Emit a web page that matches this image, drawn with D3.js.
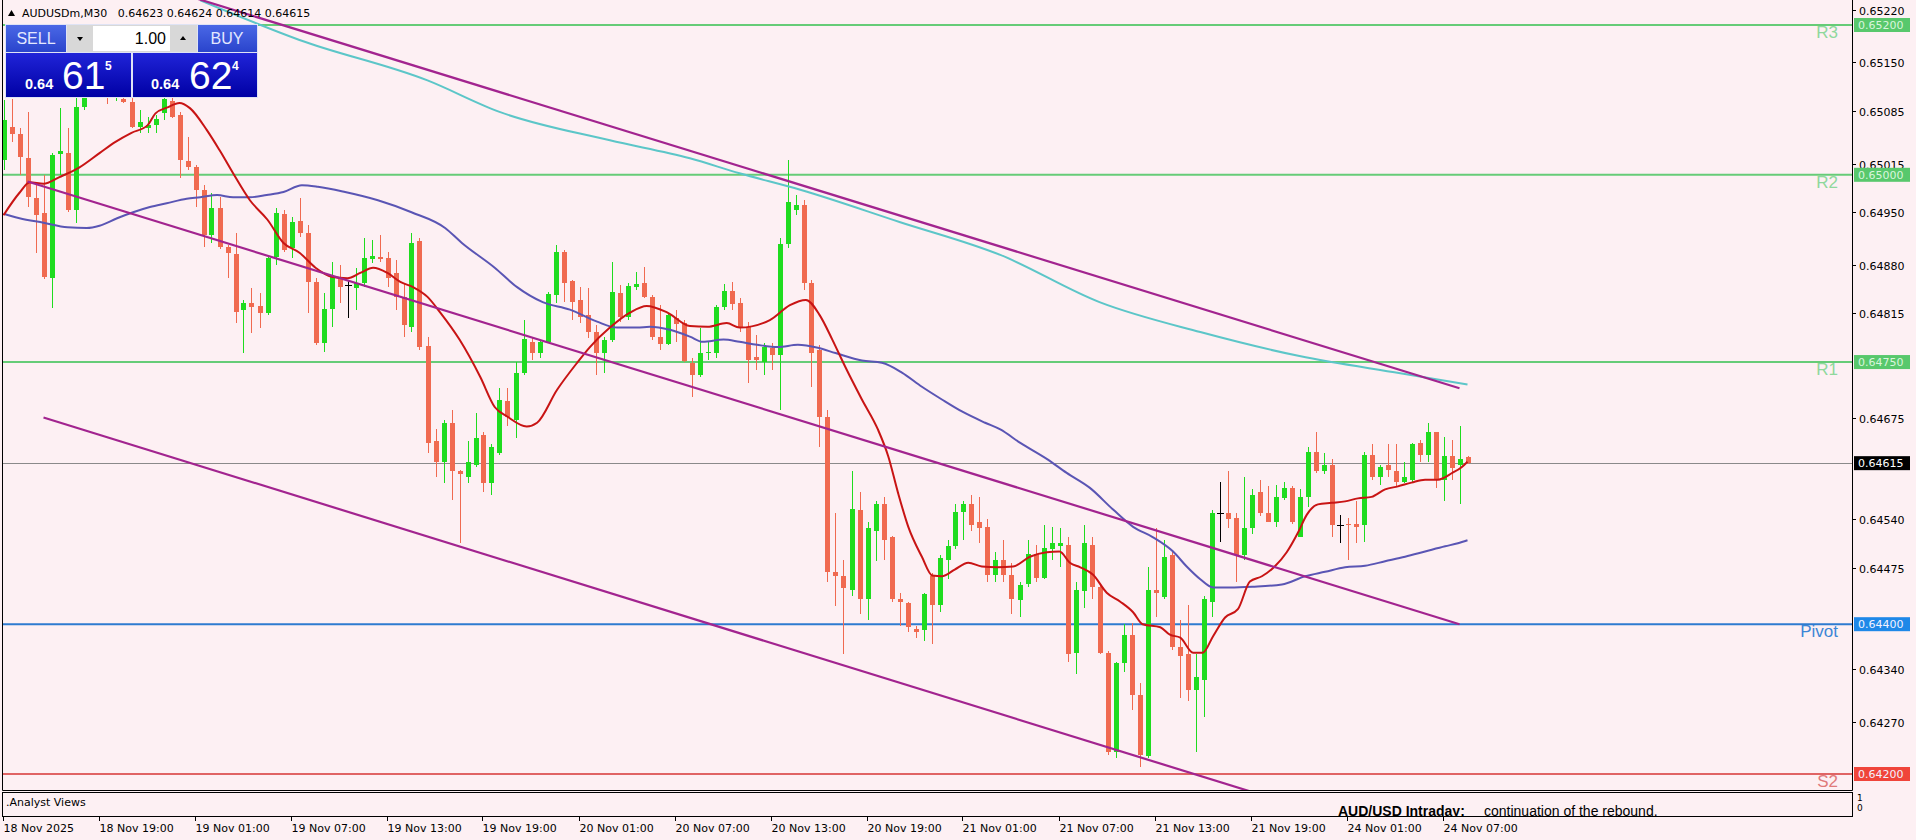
<!DOCTYPE html>
<html><head><meta charset="utf-8">
<script src="https://cdn.jsdelivr.net/npm/d3@7"></script>
<style>
html,body{margin:0;padding:0;background:#fdf0f3;overflow:hidden;}
svg{display:block;}
</style></head><body>
<svg id="chart" width="1916" height="840"></svg>
<script>
// ---------------- DATA ----------------
const symbolTitle = "AUDUSDm,M30";
const titleQuote = [0.64623, 0.64624, 0.64614, 0.64615];
const lotSize = "1.00";
const sellQuote = ["0.64", "61", "5"];
const buyQuote = ["0.64", "62", "4"];

// one row per 30-minute bar: [open, high, low, close]
const ohlc = [
[0.65020,0.65100,0.65006,0.65073],[0.65064,0.65101,0.65044,0.65054],[0.65054,0.65062,0.65000,0.65024],[0.65022,0.65084,0.64957,0.64970],
[0.64969,0.64989,0.64896,0.64946],[0.64949,0.65000,0.64861,0.64864],[0.64862,0.65029,0.64822,0.65026],[0.65028,0.65089,0.65000,0.65032],
[0.65029,0.65062,0.64950,0.64953],[0.64953,0.65102,0.64936,0.65090],[0.65090,0.65126,0.65086,0.65116],[0.65116,0.65150,0.65105,0.65140],
[0.65140,0.65160,0.65110,0.65120],[0.65120,0.65130,0.65095,0.65105],[0.65105,0.65125,0.65098,0.65115],[0.65101,0.65112,0.65096,0.65097],
[0.65097,0.65104,0.65062,0.65064],[0.65064,0.65086,0.65056,0.65070],[0.65062,0.65077,0.65056,0.65066],[0.65066,0.65080,0.65056,0.65074],
[0.65082,0.65110,0.65073,0.65101],[0.65098,0.65108,0.65076,0.65077],[0.65080,0.65084,0.64996,0.65020],[0.65018,0.65050,0.65006,0.65010],
[0.65010,0.65013,0.64957,0.64980],[0.64980,0.64986,0.64904,0.64920],[0.64920,0.64976,0.64909,0.64956],[0.64956,0.64970,0.64901,0.64904],
[0.64904,0.64906,0.64862,0.64896],[0.64894,0.64922,0.64802,0.64817],[0.64820,0.64833,0.64762,0.64829],[0.64829,0.64849,0.64789,0.64824],
[0.64825,0.64842,0.64796,0.64816],[0.64816,0.64892,0.64813,0.64889],[0.64890,0.64956,0.64880,0.64949],[0.64948,0.64953,0.64897,0.64900],
[0.64902,0.64944,0.64889,0.64937],[0.64938,0.64969,0.64917,0.64922],[0.64922,0.64933,0.64816,0.64857],[0.64857,0.64862,0.64773,0.64776],
[0.64776,0.64842,0.64764,0.64821],[0.64821,0.64884,0.64797,0.64864],[0.64862,0.64880,0.64829,0.64850],[0.64853,0.64860,0.64809,0.64853],
[0.64849,0.64876,0.64820,0.64856],[0.64856,0.64916,0.64850,0.64889],[0.64888,0.64913,0.64882,0.64892],[0.64890,0.64920,0.64884,0.64888],
[0.64889,0.64897,0.64850,0.64862],[0.64869,0.64886,0.64820,0.64837],[0.64837,0.64856,0.64784,0.64800],[0.64797,0.64922,0.64790,0.64909],
[0.64912,0.64916,0.64766,0.64770],[0.64772,0.64784,0.64629,0.64642],[0.64645,0.64660,0.64596,0.64616],[0.64616,0.64672,0.64589,0.64669],
[0.64668,0.64686,0.64566,0.64604],[0.64604,0.64606,0.64509,0.64600],[0.64596,0.64644,0.64589,0.64616],[0.64613,0.64682,0.64610,0.64648],
[0.64652,0.64656,0.64576,0.64589],[0.64589,0.64640,0.64573,0.64637],[0.64629,0.64716,0.64626,0.64700],[0.64698,0.64716,0.64664,0.64676],
[0.64673,0.64750,0.64649,0.64736],[0.64736,0.64806,0.64733,0.64781],[0.64777,0.64784,0.64753,0.64762],[0.64762,0.64780,0.64756,0.64777],
[0.64777,0.64844,0.64776,0.64841],[0.64840,0.64906,0.64829,0.64897],[0.64897,0.64900,0.64830,0.64856],[0.64858,0.64860,0.64806,0.64830],
[0.64833,0.64850,0.64802,0.64810],[0.64813,0.64849,0.64782,0.64790],[0.64790,0.64800,0.64733,0.64762],[0.64762,0.64784,0.64736,0.64780],
[0.64780,0.64884,0.64777,0.64844],[0.64842,0.64853,0.64804,0.64810],[0.64810,0.64856,0.64806,0.64852],[0.64850,0.64870,0.64846,0.64854],
[0.64856,0.64877,0.64836,0.64837],[0.64837,0.64840,0.64780,0.64784],[0.64784,0.64826,0.64766,0.64774],[0.64774,0.64816,0.64773,0.64813],
[0.64809,0.64820,0.64777,0.64801],[0.64802,0.64806,0.64750,0.64752],[0.64749,0.64756,0.64704,0.64733],[0.64733,0.64796,0.64730,0.64762],
[0.64762,0.64777,0.64753,0.64764],[0.64762,0.64826,0.64756,0.64824],[0.64824,0.64854,0.64820,0.64845],[0.64845,0.64857,0.64820,0.64828],
[0.64829,0.64836,0.64790,0.64797],[0.64797,0.64804,0.64722,0.64753],[0.64757,0.64786,0.64740,0.64753],[0.64750,0.64776,0.64733,0.64770],
[0.64769,0.64776,0.64740,0.64760],[0.64760,0.64916,0.64686,0.64908],[0.64908,0.65020,0.64902,0.64964],[0.64953,0.64973,0.64946,0.64960],
[0.64960,0.64966,0.64846,0.64856],[0.64856,0.64860,0.64717,0.64762],[0.64766,0.64773,0.64637,0.64676],[0.64676,0.64686,0.64456,0.64470],
[0.64470,0.64549,0.64424,0.64464],[0.64464,0.64486,0.64360,0.64448],[0.64445,0.64604,0.64437,0.64554],[0.64553,0.64576,0.64413,0.64434],
[0.64434,0.64537,0.64406,0.64529],[0.64525,0.64564,0.64484,0.64561],[0.64560,0.64570,0.64486,0.64513],[0.64516,0.64518,0.64429,0.64433],
[0.64434,0.64442,0.64397,0.64429],[0.64428,0.64429,0.64390,0.64396],[0.64394,0.64397,0.64382,0.64390],[0.64392,0.64441,0.64377,0.64440],
[0.64464,0.64469,0.64373,0.64426],[0.64426,0.64493,0.64416,0.64488],[0.64486,0.64513,0.64460,0.64505],[0.64505,0.64560,0.64500,0.64550],
[0.64550,0.64564,0.64513,0.64561],[0.64561,0.64573,0.64524,0.64533],[0.64536,0.64570,0.64509,0.64529],[0.64530,0.64540,0.64457,0.64466],
[0.64466,0.64496,0.64456,0.64486],[0.64486,0.64513,0.64456,0.64466],[0.64466,0.64482,0.64413,0.64433],[0.64432,0.64456,0.64409,0.64452],
[0.64454,0.64513,0.64450,0.64494],[0.64494,0.64506,0.64456,0.64462],[0.64462,0.64533,0.64460,0.64502],[0.64500,0.64530,0.64486,0.64508],
[0.64505,0.64529,0.64477,0.64508],[0.64506,0.64517,0.64349,0.64360],[0.64362,0.64456,0.64333,0.64446],[0.64444,0.64533,0.64422,0.64508],
[0.64506,0.64517,0.64433,0.64450],[0.64450,0.64453,0.64360,0.64362],[0.64361,0.64364,0.64225,0.64230],[0.64230,0.64350,0.64222,0.64348],
[0.64348,0.64400,0.64336,0.64385],[0.64386,0.64402,0.64286,0.64306],[0.64306,0.64322,0.64210,0.64226],[0.64224,0.64476,0.64221,0.64446],
[0.64445,0.64529,0.64410,0.64442],[0.64436,0.64513,0.64433,0.64490],[0.64492,0.64496,0.64366,0.64369],[0.64369,0.64406,0.64302,0.64357],
[0.64360,0.64426,0.64297,0.64312],[0.64312,0.64360,0.64230,0.64329],[0.64326,0.64437,0.64276,0.64434],[0.64430,0.64552,0.64410,0.64549],
[0.64549,0.64590,0.64510,0.64549],[0.64549,0.64604,0.64529,0.64541],[0.64542,0.64549,0.64457,0.64493],[0.64493,0.64597,0.64486,0.64529],
[0.64529,0.64580,0.64520,0.64573],[0.64576,0.64593,0.64544,0.64549],[0.64549,0.64585,0.64536,0.64537],[0.64537,0.64586,0.64530,0.64570],
[0.64568,0.64590,0.64566,0.64582],[0.64582,0.64585,0.64534,0.64537],[0.64517,0.64580,0.64516,0.64570],[0.64570,0.64636,0.64556,0.64630],
[0.64630,0.64656,0.64602,0.64604],[0.64605,0.64629,0.64600,0.64613],[0.64612,0.64621,0.64517,0.64533],[0.64533,0.64546,0.64509,0.64533],
[0.64534,0.64542,0.64486,0.64532],[0.64534,0.64564,0.64509,0.64530],[0.64533,0.64630,0.64510,0.64626],[0.64626,0.64640,0.64593,0.64596],
[0.64597,0.64613,0.64586,0.64610],[0.64612,0.64640,0.64597,0.64606],[0.64605,0.64640,0.64584,0.64590],[0.64590,0.64617,0.64589,0.64597],
[0.64593,0.64642,0.64590,0.64640],[0.64642,0.64646,0.64617,0.64626],[0.64626,0.64669,0.64616,0.64656],[0.64656,0.64657,0.64582,0.64593],
[0.64593,0.64650,0.64564,0.64624],[0.64625,0.64646,0.64593,0.64609],[0.64613,0.64665,0.64561,0.64621],[0.64623,0.64624,0.64614,0.64615]
];

// moving averages: [bar index, price]
const fastMA = [[0,0.64946],[2,0.64976],[3.3,0.64990],[5,0.64988],[7,0.64997],[9.5,0.65010],[12,0.65029],[14,0.65044],[16,0.65056],[18,0.65066],[19,0.65082],[20.5,0.65090],[22,0.65096],[23.3,0.65089],[25.4,0.65060],[27,0.65033],[28.7,0.65002],[30.8,0.64966],[33,0.64940],[35,0.64909],[37,0.64896],[39,0.64876],[41,0.64864],[43,0.64862],[44.6,0.64869],[46.2,0.64876],[48,0.64869],[49.6,0.64857],[51.2,0.64850],[53,0.64837],[54.6,0.64816],[57,0.64780],[59.6,0.64730],[61.4,0.64690],[63,0.64677],[65.4,0.64664],[66.7,0.64669],[69.2,0.64713],[71.7,0.64749],[73.3,0.64770],[75.8,0.64796],[78.3,0.64816],[80.4,0.64825],[83,0.64816],[85.8,0.64798],[88,0.64797],[90.4,0.64802],[92,0.64796],[95.8,0.64806],[98.3,0.64826],[100.3,0.64833],[102,0.64813],[103.6,0.64780],[105.2,0.64744],[107.3,0.64700],[109.3,0.64660],[110.6,0.64624],[111.8,0.64576],[113.1,0.64530],[114.8,0.64490],[116.1,0.64465],[117.3,0.64464],[118.9,0.64473],[120.6,0.64482],[122.3,0.64477],[124.2,0.64476],[126.2,0.64477],[128.3,0.64490],[130.4,0.64496],[132,0.64497],[133.3,0.64482],[134.6,0.64476],[136.2,0.64466],[137.9,0.64442],[139.6,0.64430],[141.2,0.64416],[142.4,0.64400],[144.6,0.64396],[145.8,0.64386],[147.1,0.64382],[148.7,0.64362],[149.9,0.64362],[151.2,0.64384],[152.7,0.64409],[154.3,0.64420],[155.8,0.64457],[157.3,0.64464],[158.9,0.64477],[160.4,0.64496],[161.8,0.64522],[162.9,0.64546],[164.3,0.64560],[166,0.64562],[167.7,0.64564],[169.3,0.64568],[171,0.64570],[172.7,0.64580],[174.3,0.64584],[176,0.64589],[177.7,0.64593],[179.3,0.64593],[181.1,0.64602],[182.3,0.64610],[183,0.64617]];
const midMA = [[0,0.64948],[2,0.64942],[5,0.64936],[8,0.64930],[10.4,0.64929],[12,0.64932],[14.2,0.64942],[16.2,0.64950],[18.3,0.64957],[20.4,0.64962],[22.9,0.64968],[24.6,0.64970],[26.7,0.64973],[28.7,0.64970],[30.8,0.64970],[32.9,0.64973],[35,0.64977],[37.3,0.64986],[39.3,0.64984],[42.7,0.64977],[46.8,0.64966],[51,0.64950],[55.2,0.64929],[57.3,0.64909],[61.4,0.64876],[64.2,0.64850],[67.4,0.64830],[70.8,0.64820],[74.2,0.64804],[76.7,0.64796],[79.2,0.64796],[80.8,0.64797],[83.3,0.64793],[85.8,0.64784],[87.4,0.64777],[90,0.64780],[92,0.64777],[94.2,0.64773],[96.8,0.64770],[99.3,0.64773],[101.8,0.64769],[104,0.64762],[107.3,0.64752],[109.8,0.64749],[112.3,0.64736],[114.8,0.64717],[117.3,0.64700],[119.8,0.64684],[122.7,0.64669],[124.6,0.64660],[127.1,0.64642],[130.5,0.64620],[132.9,0.64602],[135.8,0.64582],[138.7,0.64553],[141.2,0.64530],[143.7,0.64516],[146.2,0.64497],[147.9,0.64477],[149.6,0.64460],[151.2,0.64449],[153.3,0.64449],[156.1,0.64450],[159.8,0.64453],[162.7,0.64464],[165.2,0.64470],[167.7,0.64476],[170.2,0.64478],[172.7,0.64484],[175.2,0.64490],[177.7,0.64497],[180.2,0.64504],[181.8,0.64508],[183,0.64512]];
const slowMA = [[24.6,0.65233],[37,0.65180],[53,0.65126],[62,0.65084],[75.8,0.65046],[85.8,0.65022],[92,0.65002],[99.6,0.64980],[112,0.64937],[124.6,0.64893],[137,0.64830],[149.6,0.64790],[162,0.64758],[174.6,0.64735],[183,0.64720]];

// channel trend lines: two anchors each [bar index, price]
const channelUpper = [[20,0.65249],[182,0.64715]];
const channelMiddle = [[3,0.64991],[182,0.64400]];
const channelLower = [[5,0.64676],[160,0.64163]];

// horizontal levels
const levelNames = ["R3","R2","R1","Pivot","S2"];
const levelValues = [0.65200,0.65000,0.64750,0.64400,0.64200];
const lastPrice = 0.64615;

// axis ticks (the ones hidden under the level/price boxes are left out)
const priceTicks = [0.65220,0.65150,0.65085,0.65015,0.64950,0.64880,0.64815,0.64675,0.64540,0.64475,0.64340,0.64270];
const timeTickIndex = [0,12,24,36,48,60,72,84,96,108,120,132,144,156,168,180];
const timeTickLabels = ["18 Nov 2025","18 Nov 19:00","19 Nov 01:00","19 Nov 07:00","19 Nov 13:00","19 Nov 19:00","20 Nov 01:00","20 Nov 07:00","20 Nov 13:00","20 Nov 19:00","21 Nov 01:00","21 Nov 07:00","21 Nov 13:00","21 Nov 19:00","24 Nov 01:00","24 Nov 07:00"];
const paneName = ".Analyst Views";
const viewTitle = "AUD/USD Intraday:";
const viewText = "continuation of the rebound.";

// ---------------- STYLE ----------------
const W = 1916, H = 840;
const paneL = 2, paneR = 1852, paneT = 0, paneB = 790;
const bg = "#fdf0f3";
const upCol = "#1fdc1f", dnCol = "#f06a50";
const levelCols = ["#66cc77","#66cc77","#66cc77","#2e7bd0","#e06464"];
const levelTextCols = ["#8fd89c","#8fd89c","#8fd89c","#3c86d6","#e07a7a"];
const levelBoxCols = ["#58c86c","#58c86c","#58c86c","#1e88e8","#f0453a"];
const axisFont = "'DejaVu Sans', sans-serif";
const sansFont = "'Liberation Sans', Arial, sans-serif";

const svg = d3.select("#chart");
svg.append("rect").attr("width", W).attr("height", H).attr("fill", bg);

const x = d3.scaleLinear().domain([0, 183]).range([3.5, 1467.5]);
const y = d3.scaleLinear().domain([0.642, 0.652]).range([774, 25]);

const defs = svg.append("defs");
defs.append("clipPath").attr("id", "paneClip").append("rect")
  .attr("x", paneL).attr("y", paneT).attr("width", paneR - paneL).attr("height", paneB - paneT);
defs.append("clipPath").attr("id", "subClip").append("rect")
  .attr("x", paneL).attr("y", 793).attr("width", paneR - paneL).attr("height", 23);

const main = svg.append("g").attr("clip-path", "url(#paneClip)");

// current price line
main.append("line").attr("x1", paneL).attr("x2", paneR)
  .attr("y1", Math.round(y(lastPrice)) + 0.5).attr("y2", Math.round(y(lastPrice)) + 0.5)
  .attr("stroke", "#8a8a8a").attr("stroke-width", 1);

// level lines
levelValues.forEach((v, k) => {
  main.append("line").attr("x1", paneL).attr("x2", paneR)
    .attr("y1", y(v)).attr("y2", y(v))
    .attr("stroke", levelCols[k]).attr("stroke-width", 2);
});

// candles
const cg = main.append("g").attr("shape-rendering", "crispEdges");
ohlc.forEach((d, i) => {
  const [o, h, l, c] = d;
  const col = c > o ? upCol : (c < o ? dnCol : "#000000");
  const cx = Math.round(x(i));
  cg.append("rect").attr("x", cx).attr("y", y(h)).attr("width", 1)
    .attr("height", Math.max(1, y(l) - y(h))).attr("fill", col);
  if (c === o) {
    cg.append("rect").attr("x", cx - 3).attr("y", Math.round(y(o))).attr("width", 7).attr("height", 1).attr("fill", col);
  } else {
    const top = y(Math.max(o, c)), bot = y(Math.min(o, c));
    cg.append("rect").attr("x", cx - 2).attr("y", top).attr("width", 5)
      .attr("height", Math.max(1, bot - top)).attr("fill", col);
  }
});

// moving averages
const maLine = d3.line().x(d => x(d[0])).y(d => y(d[1])).curve(d3.curveMonotoneX);
main.append("path").datum(slowMA).attr("d", maLine).attr("fill", "none").attr("stroke", "#5cc6c8").attr("stroke-width", 2);
main.append("path").datum(midMA).attr("d", maLine).attr("fill", "none").attr("stroke", "#5a55b4").attr("stroke-width", 2);
main.append("path").datum(fastMA).attr("d", maLine).attr("fill", "none").attr("stroke", "#c81414").attr("stroke-width", 2);

// channel lines
const straight = d3.line().x(d => x(d[0])).y(d => y(d[1]));
[channelUpper, channelMiddle, channelLower].forEach(ch => {
  main.append("path").datum(ch).attr("d", straight).attr("fill", "none")
    .attr("stroke", "#a2248f").attr("stroke-width", 2.2);
});

// level labels
levelValues.forEach((v, k) => {
  main.append("text").attr("x", 1838).attr("y", y(v) + 13)
    .attr("text-anchor", "end").attr("font-family", sansFont)
    .attr("font-size", 17).attr("fill", levelTextCols[k]).text(levelNames[k]);
});

// pane borders
svg.append("path").attr("d", `M${paneL + 0.5},0V${paneB + 0.5}H${paneR + 0.5}V0`)
  .attr("fill", "none").attr("stroke", "#000").attr("stroke-width", 1);
svg.append("rect").attr("x", paneL + 0.5).attr("y", 792.5).attr("width", paneR - paneL).attr("height", 24)
  .attr("fill", "none").attr("stroke", "#000").attr("stroke-width", 1);

// indicator pane text
const sub = svg.append("g").attr("clip-path", "url(#subClip)");
sub.append("text").attr("x", 6).attr("y", 806).attr("font-family", axisFont).attr("font-size", 11)
  .attr("fill", "#000").text(paneName);
sub.append("text").attr("x", 1338).attr("y", 816).attr("font-family", sansFont)
  .attr("font-size", 14).attr("font-weight", "bold").attr("fill", "#000").text(viewTitle);
sub.append("text").attr("x", 1484).attr("y", 816).attr("font-family", sansFont)
  .attr("font-size", 14).attr("fill", "#000").text(viewText);
svg.append("text").attr("x", 1857).attr("y", 801).attr("font-family", axisFont).attr("font-size", 9).text("1");
svg.append("text").attr("x", 1857).attr("y", 811).attr("font-family", axisFont).attr("font-size", 9).text("0");

// right price axis
const yAxis = svg.append("g");
priceTicks.forEach(v => {
  const yy = Math.round(y(v)) + 0.5;
  yAxis.append("line").attr("x1", paneR).attr("x2", paneR + 4).attr("y1", yy).attr("y2", yy).attr("stroke", "#000");
  yAxis.append("text").attr("x", 1859).attr("y", yy + 4).attr("font-family", axisFont).attr("font-size", 11)
    .attr("fill", "#000").text(d3.format(".5f")(v));
});
// level boxes
levelValues.forEach((v, k) => {
  const yy = y(v);
  yAxis.append("rect").attr("x", 1854).attr("y", yy - 7).attr("width", 56).attr("height", 14).attr("fill", levelBoxCols[k]);
  yAxis.append("text").attr("x", 1858).attr("y", yy + 4).attr("font-family", axisFont).attr("font-size", 11)
    .attr("fill", k < 3 ? "#d9f5dd" : "#f2f2ff").text(d3.format(".5f")(v));
});
// last price box
yAxis.append("rect").attr("x", 1854).attr("y", y(lastPrice) - 7).attr("width", 56).attr("height", 14).attr("fill", "#000");
yAxis.append("text").attr("x", 1858).attr("y", y(lastPrice) + 4).attr("font-family", axisFont).attr("font-size", 11)
  .attr("fill", "#fff").text(d3.format(".5f")(lastPrice));

// time axis
const tAxis = svg.append("g");
timeTickIndex.forEach((idx, k) => {
  const xx = Math.round(x(idx)) - 0.5;
  tAxis.append("line").attr("x1", xx).attr("x2", xx).attr("y1", 817).attr("y2", 821).attr("stroke", "#000");
  tAxis.append("text").attr("x", xx).attr("y", 832).attr("font-family", axisFont).attr("font-size", 11)
    .attr("fill", "#000").text(timeTickLabels[k]);
});

// title
svg.append("path").attr("d", "M8,16L11.5,10L15,16Z").attr("fill", "#000");
svg.append("text").attr("x", 22).attr("y", 17).attr("font-family", axisFont).attr("font-size", 11)
  .attr("fill", "#000").text(symbolTitle + "\u00a0\u00a0 " + titleQuote.map(d3.format(".5f")).join(" "));

// trade panel
const topGrad = defs.append("linearGradient").attr("id", "btnGrad").attr("x1", 0).attr("y1", 0).attr("x2", 0).attr("y2", 1);
topGrad.append("stop").attr("offset", 0).attr("stop-color", "#4a68e6");
topGrad.append("stop").attr("offset", 1).attr("stop-color", "#2a44cc");
const boxGrad = defs.append("linearGradient").attr("id", "boxGrad").attr("x1", 0).attr("y1", 0).attr("x2", 0).attr("y2", 1);
boxGrad.append("stop").attr("offset", 0).attr("stop-color", "#2024d8");
boxGrad.append("stop").attr("offset", 1).attr("stop-color", "#0000a4");

const panel = svg.append("g");
panel.append("rect").attr("x", 5).attr("y", 24).attr("width", 253).attr("height", 74).attr("fill", "#dfe3f5");
panel.append("rect").attr("x", 6).attr("y", 25).attr("width", 60).attr("height", 27).attr("fill", "url(#btnGrad)");
panel.append("rect").attr("x", 198).attr("y", 25).attr("width", 59).attr("height", 27).attr("fill", "url(#btnGrad)");
panel.append("rect").attr("x", 6).attr("y", 53).attr("width", 125).attr("height", 44).attr("fill", "url(#boxGrad)");
panel.append("rect").attr("x", 133).attr("y", 53).attr("width", 124).attr("height", 44).attr("fill", "url(#boxGrad)");
panel.append("rect").attr("x", 67).attr("y", 25).attr("width", 130).attr("height", 27).attr("fill", "#d8d8d8");
panel.append("rect").attr("x", 93).attr("y", 26).attr("width", 77).attr("height", 25).attr("fill", "#ffffff");
panel.append("path").attr("d", "M77,37L83,37L80,41Z").attr("fill", "#000");
panel.append("path").attr("d", "M180,40L186,40L183,36Z").attr("fill", "#000");
const narrow = "'Liberation Sans Narrow', 'Liberation Sans', Arial, sans-serif";
panel.append("text").attr("x", 36).attr("y", 44).attr("text-anchor", "middle").attr("font-family", narrow)
  .attr("font-size", 16).attr("fill", "#e4e8ff").text("SELL");
panel.append("text").attr("x", 227).attr("y", 44).attr("text-anchor", "middle").attr("font-family", narrow)
  .attr("font-size", 16).attr("fill", "#e4e8ff").text("BUY");
panel.append("text").attr("x", 166).attr("y", 44).attr("text-anchor", "end").attr("font-family", narrow)
  .attr("font-size", 16).attr("fill", "#000").text(lotSize);
[[sellQuote, 25, 62, 105], [buyQuote, 151, 189, 232]].forEach(([q, a, b, c]) => {
  panel.append("text").attr("x", a).attr("y", 89).attr("font-family", sansFont)
    .attr("font-weight", "bold").attr("font-size", 14.5).attr("fill", "#fff").text(q[0]);
  panel.append("text").attr("x", b).attr("y", 89).attr("font-family", narrow)
    .attr("font-size", 39).attr("fill", "#fff").text(q[1]);
  panel.append("text").attr("x", c).attr("y", 70).attr("font-family", sansFont)
    .attr("font-weight", "bold").attr("font-size", 12).attr("fill", "#fff").text(q[2]);
});
</script>
</body></html>
